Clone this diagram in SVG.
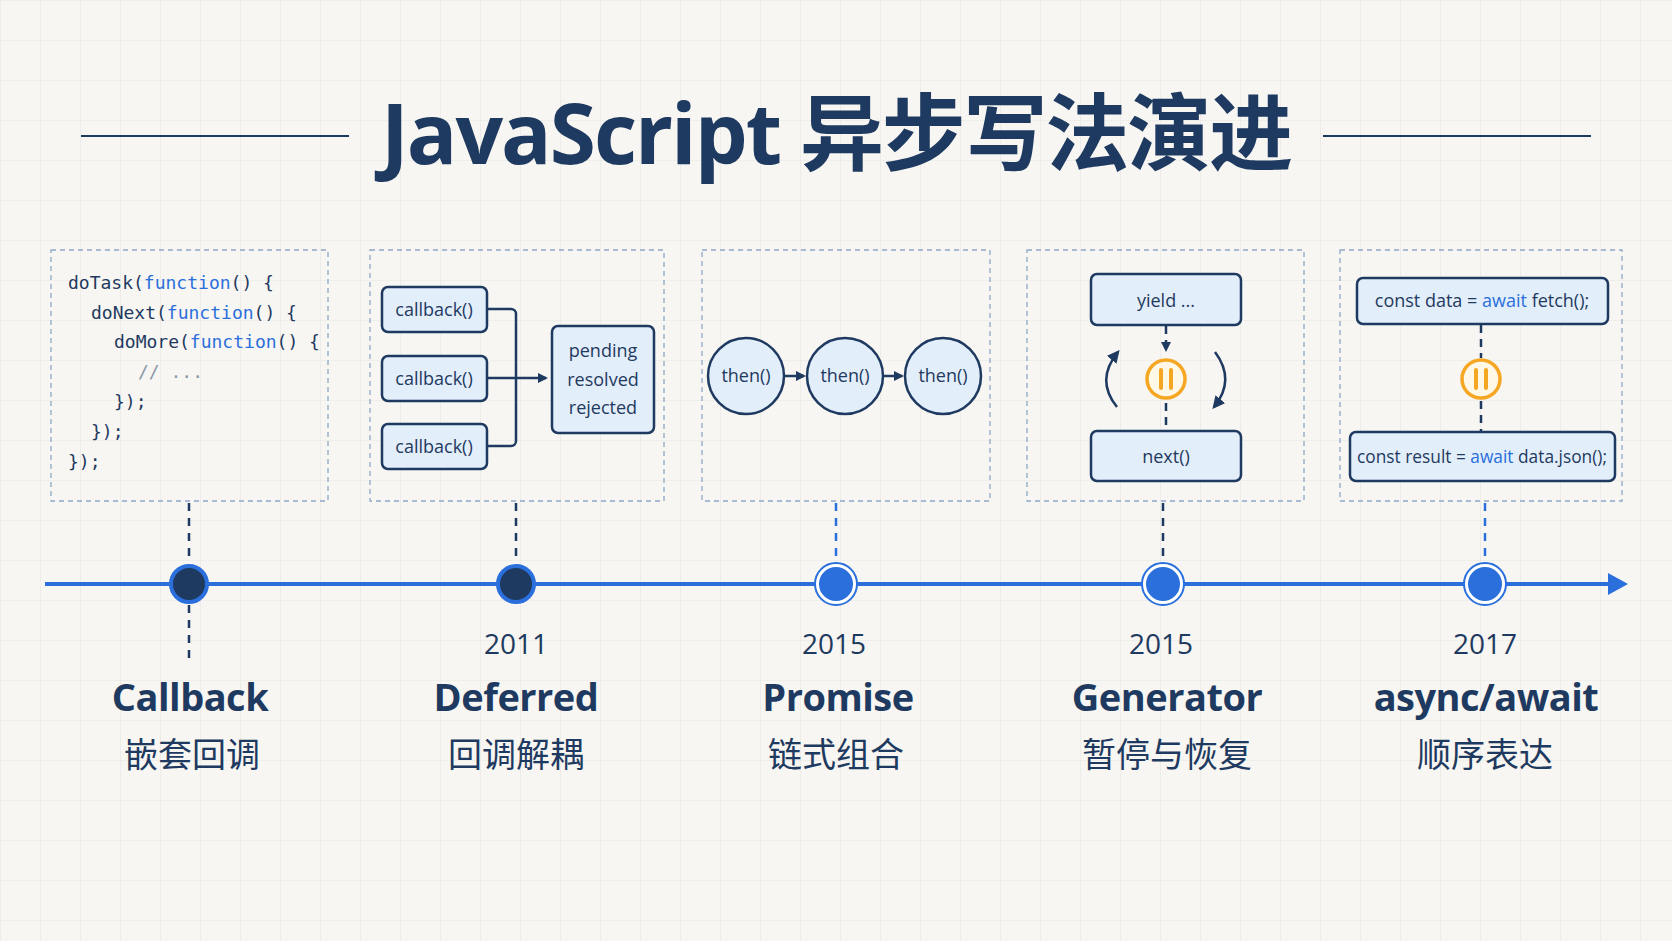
<svg xmlns="http://www.w3.org/2000/svg" width="1672" height="941" viewBox="0 0 1672 941">
<defs>
<pattern id="grid" width="40" height="40" patternUnits="userSpaceOnUse"><path d="M40 0H0V40" fill="none" stroke="#e6e6e3" stroke-width="1.2"/></pattern>
<marker id="ah" viewBox="0 0 10 10" refX="8" refY="5" markerWidth="4" markerHeight="4" orient="auto"><path d="M0 0L10 5L0 10z" fill="#1f3a60"/></marker>
<marker id="ahs" viewBox="0 0 10 10" refX="8" refY="5" markerWidth="5" markerHeight="5" orient="auto"><path d="M0 0L10 5L0 10z" fill="#1f3a60"/></marker>
</defs>
<style>
.frame{fill:none;stroke:#8fa8c8;stroke-width:1.3;stroke-dasharray:5 4}
.code{font-family:"DejaVu Sans Mono","Liberation Mono",monospace;font-size:18px;fill:#1f3a60}
.kw{fill:#2a6fdb}
.cm{fill:#8a97a8}
.box{fill:#e3eefb;stroke:#1f3a60;stroke-width:2.5}
.lbl{font-family:"Open Sans","Liberation Sans",sans-serif;font-size:18px;fill:#1f3a60;text-anchor:middle}
.ln{fill:none;stroke:#1f3a60;stroke-width:2.5}
.dl{fill:none;stroke:#1f3a60;stroke-width:2.5;stroke-dasharray:8 6}
.yr{font-family:"Open Sans","Liberation Sans",sans-serif;font-size:28px;fill:#1f3a60;text-anchor:middle}
.nm{font-family:"Open Sans","Liberation Sans",sans-serif;font-size:38px;font-weight:bold;fill:#1f3a60;text-anchor:middle;letter-spacing:-0.5px}
.zh{font-family:"Noto Sans CJK SC",sans-serif;font-size:34px;fill:#1f3a60;text-anchor:middle}
.pause{fill:#fff8e6;stroke:#f5a623;stroke-width:3.5}
.pb{stroke:#f5a623;stroke-width:4;stroke-linecap:round}
</style>
<rect width="1672" height="941" fill="#f7f6f2"/>
<rect width="1672" height="941" fill="url(#grid)"/>
<g id="title">
<line x1="81" y1="136" x2="349" y2="136" stroke="#1f3a60" stroke-width="2"/>
<line x1="1323" y1="136" x2="1591" y2="136" stroke="#1f3a60" stroke-width="2"/>
<text x="836" y="164" font-family="'Open Sans','Noto Sans CJK SC',sans-serif" font-size="84" font-weight="bold" fill="#1f3a60" text-anchor="middle" letter-spacing="-2" textLength="910" lengthAdjust="spacingAndGlyphs">JavaScript 异步写法演进</text>
</g>
<g id="connectors">
<line x1="45" y1="584" x2="1610" y2="584" stroke="#2a6fdb" stroke-width="4"/>
<path d="M1608 573L1628 584L1608 595z" fill="#2a6fdb"/>
<g stroke="#1f3a60" stroke-width="2.5" stroke-dasharray="8 7">
<line x1="189" y1="503" x2="189" y2="563"/>
<line x1="189" y1="605" x2="189" y2="660"/>
<line x1="516" y1="503" x2="516" y2="563"/>
<line x1="1163" y1="503" x2="1163" y2="563"/>
</g>
<g stroke="#2a6fdb" stroke-width="2.5" stroke-dasharray="8 7">
<line x1="836" y1="503" x2="836" y2="563"/>
<line x1="1485" y1="503" x2="1485" y2="563"/>
</g>
</g>
<g id="t-callback">
<circle cx="189" cy="584" r="18" fill="#1f3a60" stroke="#2a6fdb" stroke-width="4"/>
<text class="nm" x="190" y="711">Callback</text>
<text class="zh" x="192" y="767">嵌套回调</text>
</g>
<g id="t-deferred">
<circle cx="516" cy="584" r="18" fill="#1f3a60" stroke="#2a6fdb" stroke-width="4"/>
<text class="yr" x="516" y="654">2011</text>
<text class="nm" x="516" y="711">Deferred</text>
<text class="zh" x="516" y="767">回调解耦</text>
</g>
<g id="t-promise">
<circle cx="836" cy="584" r="19" fill="#2a6fdb" stroke="#fff" stroke-width="4"/>
<circle cx="836" cy="584" r="21" fill="none" stroke="#2a6fdb" stroke-width="2"/>
<text class="yr" x="834" y="654">2015</text>
<text class="nm" x="838" y="711">Promise</text>
<text class="zh" x="836" y="767">链式组合</text>
</g>
<g id="t-generator">
<circle cx="1163" cy="584" r="19" fill="#2a6fdb" stroke="#fff" stroke-width="4"/>
<circle cx="1163" cy="584" r="21" fill="none" stroke="#2a6fdb" stroke-width="2"/>
<text class="yr" x="1161" y="654">2015</text>
<text class="nm" x="1167" y="711">Generator</text>
<text class="zh" x="1167" y="767">暂停与恢复</text>
</g>
<g id="t-async">
<circle cx="1485" cy="584" r="19" fill="#2a6fdb" stroke="#fff" stroke-width="4"/>
<circle cx="1485" cy="584" r="21" fill="none" stroke="#2a6fdb" stroke-width="2"/>
<text class="yr" x="1485" y="654">2017</text>
<text class="nm" x="1486" y="711">async/await</text>
<text class="zh" x="1485" y="767">顺序表达</text>
</g>
<g id="card-callback">
<rect class="frame" x="51" y="250" width="277" height="251"/>
<text class="code" x="68" y="289">doTask(<tspan class="kw">function</tspan>() {</text>
<text class="code" x="91" y="319">doNext(<tspan class="kw">function</tspan>() {</text>
<text class="code" x="114" y="348">doMore(<tspan class="kw">function</tspan>() {</text>
<text class="code cm" x="138" y="378">// ...</text>
<text class="code" x="114" y="408">});</text>
<text class="code" x="91" y="438">});</text>
<text class="code" x="68" y="468">});</text>
</g>
<g id="card-deferred">
<rect class="frame" x="370" y="250" width="294" height="251"/>
<rect class="box" x="382" y="287" width="105" height="45" rx="6" fill="#eef4fc"/>
<rect class="box" x="382" y="356" width="105" height="45" rx="6"/>
<rect class="box" x="382" y="424" width="105" height="45" rx="6"/>
<text class="lbl" x="434" y="316">callback()</text>
<text class="lbl" x="434" y="385">callback()</text>
<text class="lbl" x="434" y="453">callback()</text>
<path class="ln" d="M487 309H511a5 5 0 0 1 5 5V441a5 5 0 0 1-5 5H487M487 378H546" marker-end="url(#ah)"/>
<rect class="box" x="552" y="326" width="102" height="107" rx="6"/>
<text class="lbl" x="603" y="357">pending</text>
<text class="lbl" x="603" y="386">resolved</text>
<text class="lbl" x="603" y="414">rejected</text>
</g>
<g id="card-promise">
<rect class="frame" x="702" y="250" width="288" height="251"/>
<circle class="box" cx="746" cy="376" r="38"/>
<circle class="box" cx="845" cy="376" r="38"/>
<circle class="box" cx="943" cy="376" r="38"/>
<text class="lbl" x="746" y="382">then()</text>
<text class="lbl" x="845" y="382">then()</text>
<text class="lbl" x="943" y="382">then()</text>
<line class="ln" x1="784" y1="376" x2="804" y2="376" marker-end="url(#ah)"/>
<line class="ln" x1="883" y1="376" x2="902" y2="376" marker-end="url(#ah)"/>
</g>
<g id="card-generator">
<rect class="frame" x="1027" y="250" width="277" height="251"/>
<rect class="box" x="1091" y="274" width="150" height="51" rx="6"/>
<text class="lbl" x="1166" y="307" font-size="21">yield ...</text>
<rect class="box" x="1091" y="431" width="150" height="50" rx="6"/>
<text class="lbl" x="1166" y="463" font-size="21">next()</text>
<line class="dl" x1="1166" y1="326" x2="1166" y2="350" stroke-dasharray="6 5" marker-end="url(#ah)"/>
<line class="dl" x1="1166" y1="403" x2="1166" y2="431" stroke-dasharray="8 6"/>
<circle class="pause" cx="1166" cy="379" r="19"/>
<line class="pb" x1="1161" y1="370" x2="1161" y2="388"/>
<line class="pb" x1="1171" y1="370" x2="1171" y2="388"/>
<path class="ln" d="M1117 407Q1095 380 1118 352" marker-end="url(#ahs)"/>
<path class="ln" d="M1215 352Q1236 380 1214 407" marker-end="url(#ahs)"/>
</g>
<g id="card-async">
<rect class="frame" x="1340" y="250" width="282" height="251"/>
<rect class="box" x="1357" y="278" width="251" height="46" rx="6" fill="#eef4fc"/>
<text class="lbl" x="1482" y="307" font-size="18">const data = <tspan fill="#2a6fdb">await</tspan> fetch();</text>
<rect class="box" x="1350" y="432" width="265" height="49" rx="6" fill="#eef4fc"/>
<text class="lbl" x="1482" y="463" font-size="18" textLength="250" lengthAdjust="spacingAndGlyphs">const result = <tspan fill="#2a6fdb">await</tspan> data.json();</text>
<line class="dl" x1="1481" y1="325" x2="1481" y2="358"/>
<line class="dl" x1="1481" y1="401" x2="1481" y2="432"/>
<circle class="pause" cx="1481" cy="379" r="19"/>
<line class="pb" x1="1476" y1="370" x2="1476" y2="388"/>
<line class="pb" x1="1486" y1="370" x2="1486" y2="388"/>
</g>
</svg>
